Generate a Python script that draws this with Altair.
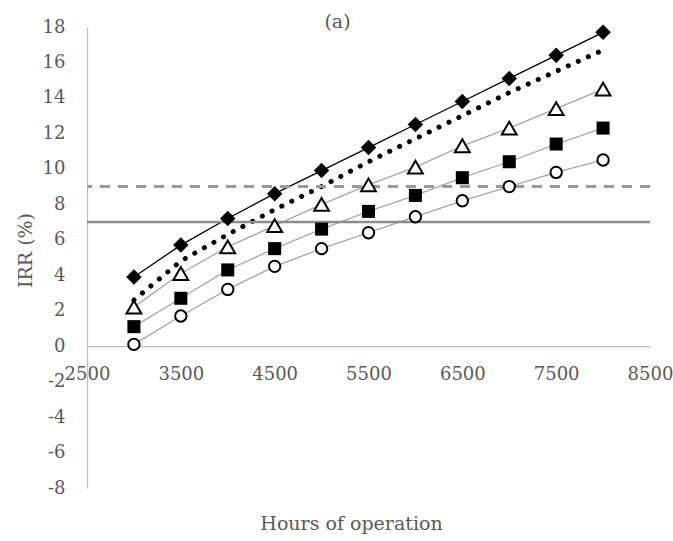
import altair as alt
import pandas as pd

# Hours of operation and IRR (%) for each scenario
hours = [3000, 3500, 4000, 4500, 5000, 5500, 6000, 6500, 7000, 7500, 8000]
irr_diamond = [3.9, 5.7, 7.2, 8.6, 9.9, 11.2, 12.5, 13.8, 15.1, 16.4, 17.7]
irr_dotted = [2.6, 4.8, 6.3, 7.7, 9.0, 10.4, 11.7, 13.0, 14.3, 15.5, 16.7]
irr_triangle = [2.2, 4.1, 5.6, 6.8, 8.0, 9.1, 10.1, 11.3, 12.3, 13.4, 14.5]
irr_square = [1.1, 2.7, 4.3, 5.5, 6.6, 7.6, 8.5, 9.5, 10.4, 11.4, 12.3]
irr_circle = [0.1, 1.7, 3.2, 4.5, 5.5, 6.4, 7.3, 8.2, 9.0, 9.8, 10.5]

# Reference IRR thresholds
threshold_dashed = [9]
threshold_solid = [7]

x_ticks = [2500, 3500, 4500, 5500, 6500, 7500, 8500]
y_ticks = list(range(-8, 19, 2))


def frame(name, values):
    return pd.DataFrame({"hours": hours, "irr": values, "series": name})


df_diamond = frame("diamond", irr_diamond)
df_dotted = frame("dotted", irr_dotted)
df_grey = pd.concat([
    frame("triangle", irr_triangle),
    frame("square", irr_square),
    frame("circle", irr_circle),
])
df_triangle = frame("triangle", irr_triangle)
df_square = frame("square", irr_square)
df_circle = frame("circle", irr_circle)

W, H = 563, 461
FONT = "DejaVu Serif"
LABEL = "#595959"
y_min, y_max = -8, 18
zero_offset = -H * (0 - y_min) / (y_max - y_min)

# plain hyphen-minus in the tick labels
plain_label = "'' + datum.value"

x_enc = alt.X(
    "hours:Q",
    scale=alt.Scale(domain=[2500, 8500], nice=False, zero=False),
    axis=alt.Axis(
        values=x_ticks, labelExpr=plain_label, title="Hours of operation",
        offset=zero_offset, ticks=False, tickSize=0, grid=False,
        labelFlush=False, labelPadding=19,
        titleX=264, titleY=177, titleAlign="center", titleBaseline="middle",
    ),
)
y_enc = alt.Y(
    "irr:Q",
    scale=alt.Scale(domain=[y_min, y_max], nice=False, zero=False),
    axis=alt.Axis(
        values=y_ticks, labelExpr=plain_label, title="IRR (%)",
        ticks=False, tickSize=0, grid=False, labelFlush=False, labelPadding=22,
        titleX=-62, titleY=223, titleAlign="center", titleBaseline="middle",
    ),
)

grey_lines = alt.Chart(df_grey).mark_line(color="#a6a6a6", strokeWidth=1.3).encode(
    x=x_enc, y=y_enc, detail="series:N"
)
diamond_line = alt.Chart(df_diamond).mark_line(color="#000000", strokeWidth=1.3).encode(
    x=x_enc, y=y_enc
)
dotted_line = alt.Chart(df_dotted).mark_line(
    color="#000000", strokeWidth=5, strokeCap="round", strokeDash=[0.1, 10.9]
).encode(x=x_enc, y=y_enc)

rule_dashed = alt.Chart(pd.DataFrame({"irr": threshold_dashed})).mark_rule(
    color="#9a9a9a", strokeWidth=3, strokeDash=[10, 8]
).encode(y=y_enc)
rule_solid = alt.Chart(pd.DataFrame({"irr": threshold_solid})).mark_rule(
    color="#8c8c8c", strokeWidth=2.5
).encode(y=y_enc)

triangles = alt.Chart(df_triangle).mark_point(
    shape="triangle-up", size=220, filled=True, fill="white", stroke="black",
    strokeWidth=2, opacity=1
).encode(x=x_enc, y=y_enc)
squares = alt.Chart(df_square).mark_point(
    shape="square", size=170, filled=True, color="black", opacity=1
).encode(x=x_enc, y=y_enc)
circles = alt.Chart(df_circle).mark_point(
    shape="circle", size=130, filled=True, fill="white", stroke="black",
    strokeWidth=2, opacity=1
).encode(x=x_enc, y=y_enc)
diamonds = alt.Chart(df_diamond).mark_point(
    shape="diamond", size=240, filled=True, color="black", opacity=1
).encode(x=x_enc, y=y_enc)

chart = alt.layer(
    grey_lines, diamond_line, dotted_line, rule_dashed, rule_solid,
    triangles, squares, circles, diamonds,
).properties(
    width=W,
    height=H,
    background="white",
    title=alt.TitleParams(
        "(a)", font=FONT, fontSize=19, fontWeight="normal", color=LABEL,
        anchor="middle", dx=-31, offset=-14,
    ),
    padding={"left": 87, "top": 27, "right": 23, "bottom": 53},
    autosize=alt.AutoSizeParams(type="none"),
).configure_view(
    stroke=None
).configure_axis(
    domainColor="#bfbfbf", domainWidth=1.2,
    labelFont=FONT, labelFontSize=18, labelColor=LABEL,
    titleFont=FONT, titleFontSize=19, titleColor=LABEL, titleFontWeight="normal",
)

chart.save("out.html", embed_options={"renderer": "svg", "actions": False})
